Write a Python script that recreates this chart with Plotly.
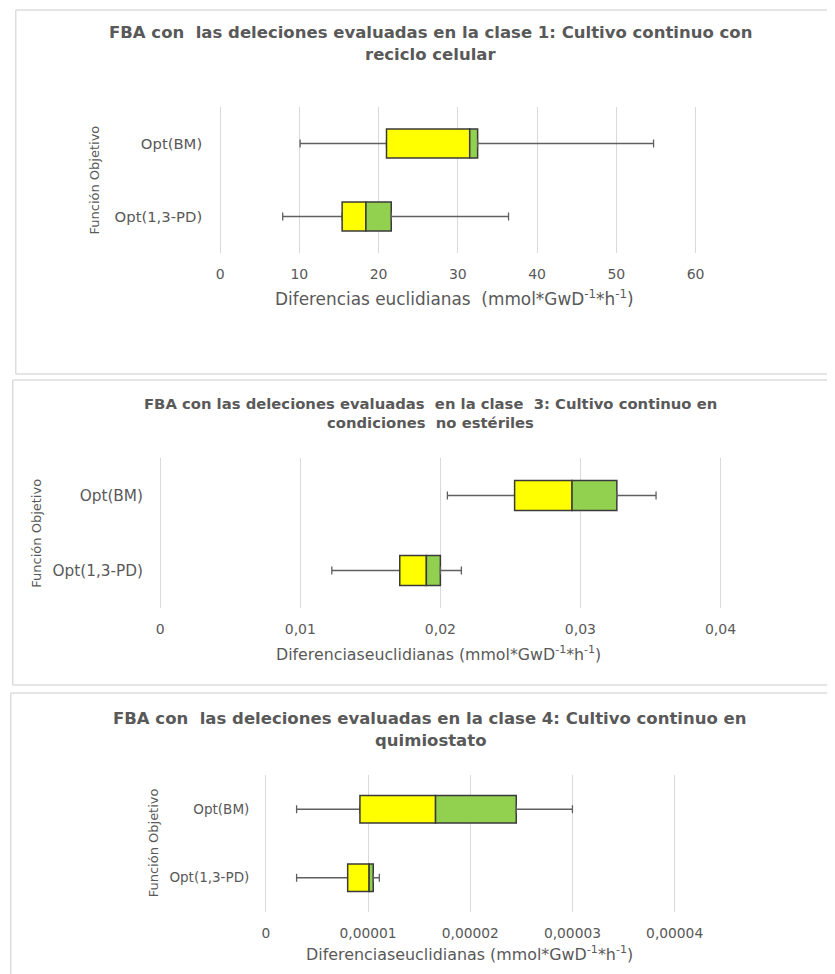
import plotly.graph_objects as go

W, H = 835, 974
OFF = 8          # default page margin of the html body
SX = 0.968       # horizontal squeeze observed between page and picture
BX = 2.5         # horizontal shift observed between page and picture
FW = int(round(W / SX - OFF))
FH = H - OFF

categories = ["Opt(1,3-PD)", "Opt(BM)"]

# Panel 1 (clase 1)
c1_min = [7.9, 10.1]
c1_q1 = [15.4, 21.0]
c1_med = [18.4, 31.5]
c1_q3 = [21.6, 32.5]
c1_max = [36.4, 54.7]
c1_ticks = [0, 10, 20, 30, 40, 50, 60]
c1_ticktext = ["0", "10", "20", "30", "40", "50", "60"]

# Panel 2 (clase 3)
c3_min = [0.01225, 0.0205]
c3_q1 = [0.0171, 0.0253]
c3_med = [0.0190, 0.0294]
c3_q3 = [0.0200, 0.0326]
c3_max = [0.0215, 0.0354]
c3_ticks = [0, 0.01, 0.02, 0.03, 0.04]
c3_ticktext = ["0", "0,01", "0,02", "0,03", "0,04"]

# Panel 3 (clase 4)
c4_min = [0.30e-5, 0.30e-5]
c4_q1 = [0.80e-5, 0.92e-5]
c4_med = [1.01e-5, 1.66e-5]
c4_q3 = [1.05e-5, 2.45e-5]
c4_max = [1.11e-5, 3.00e-5]
c4_ticks = [0, 1e-5, 2e-5, 3e-5, 4e-5]
c4_ticktext = ["0", "0,00001", "0,00002", "0,00003", "0,00004"]

titles = [
    ["FBA con  las deleciones evaluadas en la clase 1: Cultivo continuo con", "reciclo celular"],
    ["FBA con las deleciones evaluadas  en la clase  3: Cultivo continuo en", "condiciones  no estériles"],
    ["FBA con  las deleciones evaluadas en la clase 4: Cultivo continuo en", "quimiostato"],
]
xtitles = [
    "Diferencias euclidianas  (mmol*GwD<sup>-1</sup>*h<sup>-1</sup>)",
    "Diferenciaseuclidianas (mmol*GwD<sup>-1</sup>*h<sup>-1</sup>)",
    "Diferenciaseuclidianas (mmol*GwD<sup>-1</sup>*h<sup>-1</sup>)",
]
ytitle = "Función Objetivo"

YELLOW = "#FFFF00"
GREEN = "#92D050"
OUTLINE = "#3A3A3A"
WHISK = "#5F5F5F"
GRID = "#D9D9D9"
TXT = "#595959"
FONT = "DejaVu Sans"
PADF = 0.004


def px_x(p):
    return ((p - BX) / SX - OFF) / FW


def px_y(p):
    return 1 - (p - OFF) / FH


fig = go.Figure()

# gx: pixel positions of first and last vertical grid line; yd: plot top/bottom
panels = [
    dict(mn=c1_min, q1=c1_q1, med=c1_med, q3=c1_q3, mx=c1_max, ticks=c1_ticks, tt=c1_ticktext,
         rng=[0, 60], gx=[220, 697], yd=[107, 253], tfs=14, yfs=14.8, ys=15),
    dict(mn=c3_min, q1=c3_q1, med=c3_med, q3=c3_q3, mx=c3_max, ticks=c3_ticks, tt=c3_ticktext,
         rng=[0, 0.04], gx=[160, 722], yd=[458, 608], tfs=14, yfs=15.3, ys=14),
    dict(mn=c4_min, q1=c4_q1, med=c4_med, q3=c4_q3, mx=c4_max, ticks=c4_ticks, tt=c4_ticktext,
         rng=[0, 4e-5], gx=[266, 676], yd=[775, 912], tfs=13.8, yfs=13.5, ys=14),
]

layout_axes = {}
for i, p in enumerate(panels):
    n = "" if i == 0 else str(i + 1)
    xa, ya = "x" + n, "y" + n
    lower = [a - b for a, b in zip(p["q1"], p["mn"])]
    upper = [a - b for a, b in zip(p["mx"], p["q3"])]
    yel = [a - b for a, b in zip(p["med"], p["q1"])]
    grn = [a - b for a, b in zip(p["q3"], p["med"])]
    zeros = [0] * len(categories)
    # invisible carrier bar up to Q1 carrying the lower whisker
    fig.add_trace(go.Bar(
        y=categories, x=p["q1"], base=zeros, orientation="h", width=0.4,
        marker=dict(color="rgba(0,0,0,0)", line=dict(width=0)),
        error_x=dict(type="data", symmetric=False, array=zeros, arrayminus=lower,
                     color=WHISK, thickness=1.3, width=4),
        xaxis=xa, yaxis=ya, showlegend=False, hoverinfo="skip"))
    fig.add_trace(go.Bar(
        y=categories, x=yel, base=p["q1"], orientation="h", width=0.4,
        marker=dict(color=YELLOW, line=dict(color=OUTLINE, width=1.5)),
        xaxis=xa, yaxis=ya, showlegend=False))
    fig.add_trace(go.Bar(
        y=categories, x=grn, base=p["med"], orientation="h", width=0.4,
        marker=dict(color=GREEN, line=dict(color=OUTLINE, width=1.5)),
        error_x=dict(type="data", symmetric=False, array=upper, arrayminus=zeros,
                     color=WHISK, thickness=1.3, width=4),
        xaxis=xa, yaxis=ya, showlegend=False))

    span = p["rng"][1] - p["rng"][0]
    pad = span * PADF
    g0, g1 = p["gx"]
    dpx = (g1 - g0) * PADF
    layout_axes["xaxis" + n] = dict(
        domain=[px_x(g0 - dpx), px_x(g1 + dpx)],
        range=[p["rng"][0] - pad, p["rng"][1] + pad], anchor=ya,
        tickmode="array", tickvals=p["ticks"], ticktext=p["tt"],
        showgrid=True, gridcolor=GRID, gridwidth=1, zeroline=False, showline=False,
        ticks="", ticklabelstandoff=11,
        tickfont=dict(family=FONT, size=p["tfs"], color=TXT))
    layout_axes["yaxis" + n] = dict(
        domain=[px_y(p["yd"][1]), px_y(p["yd"][0])], anchor=xa,
        type="category", categoryorder="array", categoryarray=categories,
        range=[-0.5, 1.5], showgrid=False, zeroline=False, showline=False,
        ticks="", ticklabelstandoff=p["ys"],
        tickfont=dict(family=FONT, size=p["yfs"], color=TXT))

annotations = []
title_rows = [(33, 55, 16.5), (403, 423, 14.8), (718, 740, 16.5)]
for (t1, t2, fs), lines in zip(title_rows, titles):
    for yy, txt in zip((t1, t2), lines):
        annotations.append(dict(
            text="<b>" + txt + "</b>", x=px_x(431), y=px_y(yy), xref="paper", yref="paper",
            xanchor="center", yanchor="middle", showarrow=False,
            font=dict(family=FONT, size=fs, color=TXT)))

xt_pos = [(455, 298, 16.9), (439, 653, 15.8), (470, 953, 15.9)]
for (xx, yy, fs), txt in zip(xt_pos, xtitles):
    annotations.append(dict(
        text=txt, x=px_x(xx), y=px_y(yy), xref="paper", yref="paper",
        xanchor="center", yanchor="middle", showarrow=False,
        font=dict(family=FONT, size=fs, color=TXT)))

yt_pos = [(95, 180, 13), (35, 533, 13), (153, 843, 13)]
for xx, yy, fs in yt_pos:
    annotations.append(dict(
        text=ytitle, x=px_x(xx), y=px_y(yy), xref="paper", yref="paper",
        xanchor="center", yanchor="middle", showarrow=False, textangle=-90,
        font=dict(family=FONT, size=fs, color=TXT)))

# Panel frames: right side runs off the page, so draw top, left and bottom edges only
BORDER = "#DCDCDC"
shapes = []
for x0, y0, y1 in [(15, 10, 374), (12, 380, 685), (10, 693, 974)]:
    edges = [(x0, y0, W, y0), (x0, y0, x0, y1)]
    if y1 < H:
        edges.append((x0, y1, W, y1))
    for ax0, ay0, ax1, ay1 in edges:
        shapes.append(dict(type="line", xref="paper", yref="paper",
                           x0=min(px_x(ax0), 1.0), x1=min(px_x(ax1), 1.0),
                           y0=px_y(ay0), y1=px_y(ay1),
                           line=dict(color=BORDER, width=1.5), layer="below"))

fig.update_layout(
    width=FW, height=FH, margin=dict(l=0, r=0, t=0, b=0),
    paper_bgcolor="white", plot_bgcolor="white",
    barmode="overlay", showlegend=False,
    annotations=annotations, shapes=shapes,
    font=dict(family=FONT, color=TXT),
    **layout_axes)

fig.write_html("out.html")
